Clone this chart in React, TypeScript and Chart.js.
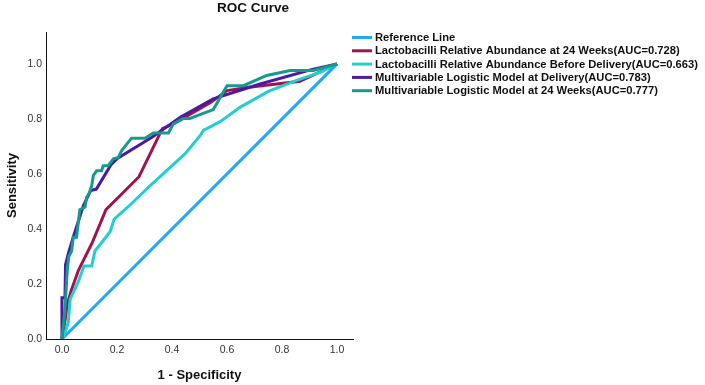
import { useEffect, useRef } from "react";
import { Chart, registerables } from "chart.js";

Chart.register(...registerables);

// Axis ticks (both axes share the same values)
const tickValues = [0, 0.2, 0.4, 0.6, 0.8, 1.0];

const chartTitle = "ROC Curve";
const xTitle = "1 - Specificity";
const yTitle = "Sensitivity";

const seriesNames = [
  "Reference Line",
  "Lactobacilli Relative Abundance at 24 Weeks(AUC=0.728)",
  "Lactobacilli Relative Abundance Before Delivery(AUC=0.663)",
  "Multivariable Logistic Model at Delivery(AUC=0.783)",
  "Multivariable Logistic Model at 24 Weeks(AUC=0.777)",
];

const seriesColors = ["#23A8F2", "#A1134F", "#22CFCF", "#4A1A9F", "#159A90"];

// Diagonal reference
const refFpr = [0, 1];
const refTpr = [0, 1];

// Lactobacilli relative abundance at 24 weeks
const lac24Fpr = [0, 0.01, 0.02, 0.035, 0.06, 0.11, 0.16, 0.22, 0.28, 0.365, 0.41, 0.54, 0.6, 0.68, 0.865, 1];
const lac24Tpr = [0, 0.06, 0.13, 0.18, 0.25, 0.35, 0.47, 0.53, 0.59, 0.765, 0.785, 0.86, 0.903, 0.915, 0.937, 1];

// Lactobacilli relative abundance before delivery
const lacDelFpr = [0, 0.01, 0.023, 0.03, 0.06, 0.08, 0.108, 0.12, 0.175, 0.19, 0.24, 0.32, 0.447, 0.502, 0.514, 0.575, 0.647, 0.75, 0.853, 0.94, 1];
const lacDelTpr = [0, 0.02, 0.06, 0.145, 0.21, 0.265, 0.265, 0.32, 0.39, 0.436, 0.48, 0.557, 0.673, 0.739, 0.758, 0.79, 0.842, 0.9, 0.94, 0.97, 1];

// Multivariable logistic model at delivery
const mvDelFpr = [0, 0, 0.011, 0.013, 0.023, 0.041, 0.078, 0.105, 0.125, 0.18, 0.2, 0.33, 0.43, 0.55, 0.72, 0.91, 1];
const mvDelTpr = [0, 0.15, 0.15, 0.27, 0.31, 0.37, 0.485, 0.54, 0.545, 0.636, 0.655, 0.735, 0.806, 0.873, 0.927, 0.98, 1];

// Multivariable logistic model at 24 weeks
const mv24Fpr = [0, 0.011, 0.02, 0.025, 0.035, 0.041, 0.053, 0.065, 0.084, 0.09, 0.1, 0.108, 0.114, 0.126, 0.144, 0.15, 0.168, 0.187, 0.205, 0.217, 0.253, 0.302, 0.332, 0.387, 0.405, 0.441, 0.465, 0.55, 0.6, 0.66, 0.744, 0.83, 0.914, 1];
const mv24Tpr = [0, 0.11, 0.26, 0.3, 0.32, 0.37, 0.37, 0.47, 0.48, 0.515, 0.533, 0.557, 0.594, 0.612, 0.612, 0.63, 0.63, 0.655, 0.66, 0.685, 0.73, 0.73, 0.749, 0.749, 0.782, 0.802, 0.802, 0.834, 0.921, 0.921, 0.958, 0.976, 0.976, 1];

const seriesFpr = [refFpr, lac24Fpr, lacDelFpr, mvDelFpr, mv24Fpr];
const seriesTpr = [refTpr, lac24Tpr, lacDelTpr, mvDelTpr, mv24Tpr];

const FONT = '"Liberation Sans", Arial, Helvetica, sans-serif';

const textPlugin = {
  id: "rocText",
  afterDraw(chart: any) {
    const { ctx, chartArea } = chart;
    ctx.save();
    ctx.fillStyle = "#111";
    ctx.textBaseline = "middle";

    // title
    ctx.textAlign = "center";
    ctx.font = `bold 13.5px ${FONT}`;
    ctx.fillText(chartTitle, 253, 8);

    // axis titles
    ctx.font = `bold 13px ${FONT}`;
    ctx.fillText(xTitle, (chartArea.left + chartArea.right) / 2, 375);
    ctx.save();
    ctx.translate(12, (chartArea.top + chartArea.bottom) / 2);
    ctx.rotate(-Math.PI / 2);
    ctx.fillText(yTitle, 0, 0);
    ctx.restore();

    // legend
    ctx.textAlign = "left";
    ctx.font = `bold 11.2px ${FONT}`;
    seriesNames.forEach((name, i) => {
      const y = 37.5 + i * 13.3;
      ctx.strokeStyle = seriesColors[i];
      ctx.lineWidth = 3;
      ctx.beginPath();
      ctx.moveTo(352, y);
      ctx.lineTo(372, y);
      ctx.stroke();
      ctx.fillStyle = "#111";
      ctx.fillText(name, 375, y + 0.5);
    });
    ctx.restore();
  },
};

export default function App() {
  const ref = useRef<HTMLCanvasElement>(null);

  useEffect(() => {
    if (!ref.current) return;
    const datasets = seriesNames.map((name, i) => ({
      label: name,
      data: seriesFpr[i].map((x, j) => ({ x, y: seriesTpr[i][j] })),
      borderColor: seriesColors[i],
      backgroundColor: seriesColors[i],
      borderWidth: 3,
      pointRadius: 0,
      tension: 0,
      fill: false,
      order: seriesNames.length - i,
    }));

    const tickFont = { family: FONT, size: 10.5 };
    const setTicks = (scale: any) => {
      scale.ticks = tickValues.map((v) => ({ value: v }));
    };

    const chart = new Chart(ref.current, {
      type: "line",
      data: { datasets },
      options: {
        responsive: false,
        animation: false,
        layout: { padding: { top: 32, right: 352, left: 0, bottom: 0 } },
        plugins: {
          legend: { display: false },
          title: { display: false },
          tooltip: { enabled: false },
        },
        scales: {
          x: {
            type: "linear",
            min: -0.058,
            max: 1.058,
            grid: { display: false, drawTicks: false },
            border: { display: true, color: "#111", width: 1 },
            ticks: {
              padding: 5,
              color: "#333",
              font: tickFont,
              maxRotation: 0,
              callback: (v: any) => Number(v).toFixed(1),
            },
            afterBuildTicks: setTicks,
            afterFit: (s: any) => {
              s.height = 46;
            },
          },
          y: {
            type: "linear",
            min: 0,
            max: 1.116,
            grid: { display: false, drawTicks: false },
            border: { display: true, color: "#111", width: 1 },
            ticks: {
              padding: 4,
              color: "#333",
              font: tickFont,
              callback: (v: any) => Number(v).toFixed(1),
            },
            afterBuildTicks: setTicks,
            afterFit: (s: any) => {
              s.width = 46;
            },
          },
        },
      },
      plugins: [textPlugin],
    } as any);

    return () => chart.destroy();
  }, []);

  return (
    <div style={{ position: "absolute", left: 0, top: 0, width: 705, height: 385, background: "#fff" }}>
      <canvas ref={ref} width={705} height={385} style={{ display: "block" }} />
    </div>
  );
}
